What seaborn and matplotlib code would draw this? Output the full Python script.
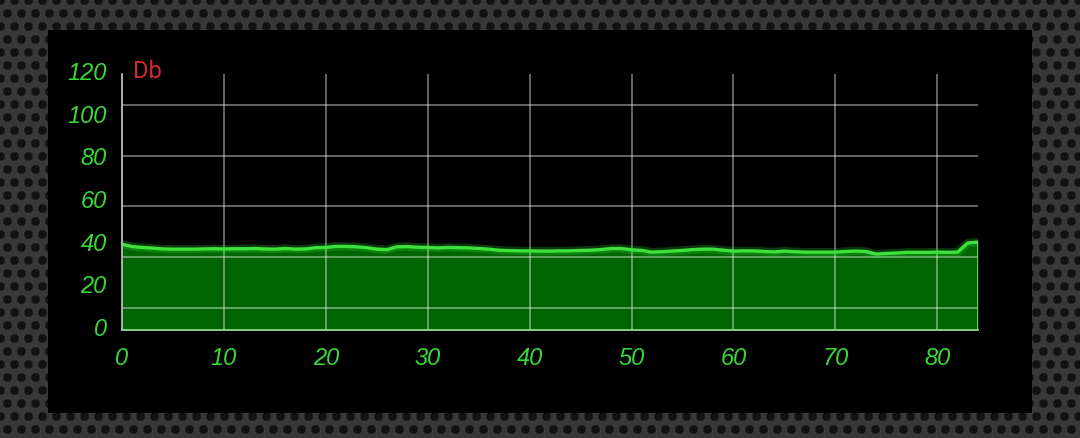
import numpy as np
import pandas as pd
import seaborn as sns
import matplotlib.pyplot as plt
import matplotlib.transforms as mtransforms
from matplotlib.patches import Rectangle
from matplotlib.ticker import FixedLocator

# sound level readings (dB), one per second
seconds = list(range(85))
db_level = [40.2, 39.1, 38.7, 38.4, 38.0, 37.9, 37.9, 37.9, 38.0, 38.1,
            38.0, 38.1, 38.1, 38.2, 38.0, 37.9, 38.2, 37.9, 38.0, 38.6,
            38.7, 39.2, 39.2, 39.0, 38.6, 37.9, 37.7, 39.0, 39.1, 38.8,
            38.7, 38.5, 38.7, 38.6, 38.5, 38.2, 37.9, 37.4, 37.2, 37.1,
            37.1, 37.0, 37.0, 37.1, 37.1, 37.3, 37.4, 37.7, 38.2, 38.2,
            37.6, 37.3, 36.5, 36.7, 37.0, 37.3, 37.7, 37.9, 37.9, 37.4,
            37.0, 37.1, 37.1, 36.8, 36.6, 37.0, 36.7, 36.5, 36.5, 36.5,
            36.5, 36.8, 37.0, 36.8, 35.6, 35.9, 36.1, 36.4, 36.4, 36.4,
            36.5, 36.4, 36.5, 40.8, 41.2]
y_ticks = [0, 20, 40, 60, 80, 100, 120]
x_ticks = [0, 10, 20, 30, 40, 50, 60, 70, 80]
grid_levels = [10.5, 34.4, 58.2, 81.6, 105.5]

df = pd.DataFrame({'sec': seconds, 'db': db_level})

W, H = 1080, 438
fig = plt.figure(figsize=(W / 100, H / 100), dpi=100)

# perforated metal backdrop
yy, xx = np.mgrid[0:H, 0:W].astype(float)
py, px = 13.0, 14.0
row = np.round(yy / py)
shift = (row % 2) * px / 2
cx = np.round((xx - shift) / px) * px + shift
d = np.hypot(xx - cx, yy - row * py)
tex = np.where(d < 3.8, 0.07, np.where(d < 5.0, 0.13, 0.22))
fig.figimage(np.dstack([tex, tex, tex]), xo=0, yo=0, origin='upper', zorder=0)

fig.add_artist(Rectangle((48 / W, (H - 413) / H), 984 / W, 383 / H,
                         transform=fig.transFigure, facecolor='black',
                         edgecolor='none', zorder=0.5))

sns.set_style('dark', {'axes.facecolor': 'black'})
ax = fig.add_axes([122 / W, (H - 330) / H, 856 / W, 256 / H])
ax.set_zorder(1)
ax.set_facecolor('black')

ax.fill_between(df.sec, 0, df.db, color='#006400', zorder=1, linewidth=0)
sns.lineplot(data=df, x='sec', y='db', ax=ax, color='#33dd33', linewidth=6,
             alpha=0.25, zorder=3)
sns.lineplot(data=df, x='sec', y='db', ax=ax, color='#3ee03e', linewidth=2.4,
             zorder=4)
ax.vlines(seconds[-1], 0, db_level[-1], color='#8fd88f', linewidth=1.2, zorder=4)

ax.set_xlim(0, 84)
ax.set_ylim(0, 120)
ax.set_xticks(x_ticks)
ax.set_yticks(y_ticks)
ax.yaxis.set_minor_locator(FixedLocator(grid_levels))
ax.grid(False)
ax.grid(True, axis='x', which='major', color='white', alpha=0.5, linewidth=1.1)
ax.grid(True, axis='y', which='minor', color='white', alpha=0.5, linewidth=1.1)
ax.set_axisbelow(False)
for gl in ax.get_xgridlines() + ax.yaxis.get_minorticklines():
    gl.set_zorder(2)

ax.tick_params(axis='both', which='both', length=0)
ax.tick_params(axis='y', pad=11)
ax.tick_params(axis='x', pad=12)
lift = mtransforms.ScaledTranslation(0, 3 / 100, fig.dpi_scale_trans)
for lab in ax.get_xticklabels() + ax.get_yticklabels():
    lab.set_family(['Liberation Sans', 'DejaVu Sans'])
    lab.set_fontsize(17)
    lab.set_style('italic')
    lab.set_color('#38d838')
for lab in ax.get_yticklabels():
    lab.set_transform(lab.get_transform() + lift)
ax.set_xlabel('')
ax.set_ylabel('')

for side in ['top', 'right']:
    ax.spines[side].set_visible(False)
ax.spines['left'].set_color('#b8b8b8')
ax.spines['left'].set_linewidth(1.3)
ax.spines['bottom'].set_color('#8fd88f')
ax.spines['bottom'].set_linewidth(1.3)
for sp in ax.spines.values():
    sp.set_zorder(5)

ax.text(0.013, 1.01, 'Db', transform=ax.transAxes, color='#d42a2a',
        fontsize=17, family=['Roboto', 'DejaVu Sans'], va='center', ha='left',
        clip_on=False)

fig.savefig('out.png', dpi=100, facecolor='#303030')
